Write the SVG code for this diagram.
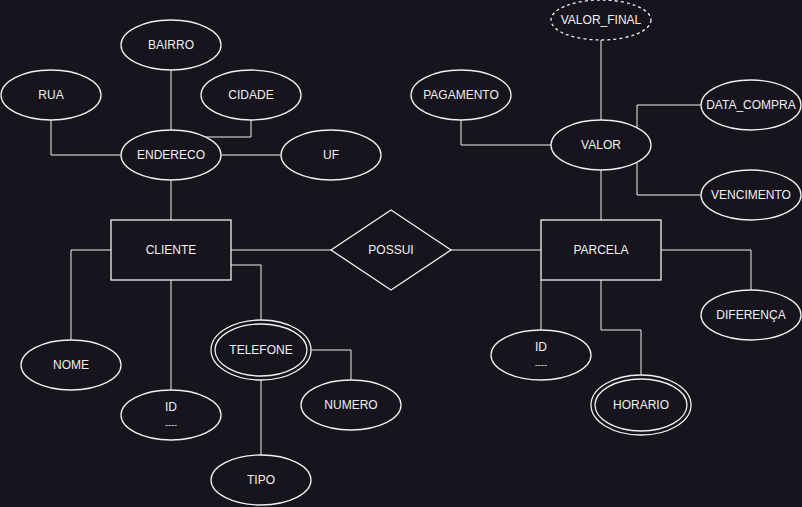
<svg xmlns="http://www.w3.org/2000/svg" width="802" height="507" viewBox="0 0 802 507">
<style>
.bg{fill:#18141d}
.s{fill:#18141d;stroke:#f0f0f0;stroke-width:1.3}
.l{fill:none;stroke:#f0f0f0;stroke-width:1}
.d{stroke-dasharray:3 3}
text{font-family:"Liberation Sans",Arial,sans-serif;font-size:12px;fill:#f0f0f0;text-anchor:middle;dominant-baseline:central}
.sm{font-size:9px}
</style>
<rect class="bg" x="0" y="0" width="802" height="507"/>
<g id="connectors">
<path class="l" d="M51,120V155H121"/>
<path class="l" d="M171,70V130"/>
<path class="l" d="M251,120V137H206"/>
<path class="l" d="M221,155H281"/>
<path class="l" d="M171,180V220"/>
<path class="l" d="M231,250H331"/>
<path class="l" d="M111,250H71V340"/>
<path class="l" d="M171,280V390"/>
<path class="l" d="M231,265H261V320"/>
<path class="l" d="M311,350H351V380"/>
<path class="l" d="M261,380V455"/>
<path class="l" d="M451,250H541"/>
<path class="l" d="M661,250H751V290"/>
<path class="l" d="M541,280V330"/>
<path class="l" d="M601,280V330H641V375"/>
<path class="l" d="M601,170V220"/>
<path class="l" d="M601,40V120"/>
<path class="l" d="M461,120V145H551"/>
<path class="l" d="M637,127.5V105H701"/>
<path class="l" d="M637,162.5V195H701"/>
</g>
<g id="bairro"><ellipse class="s" cx="171" cy="45" rx="50" ry="25"/><text x="171" y="45">BAIRRO</text></g>
<g id="rua"><ellipse class="s" cx="51" cy="95" rx="50" ry="25"/><text x="51" y="95">RUA</text></g>
<g id="cidade"><ellipse class="s" cx="251" cy="95" rx="50" ry="25"/><text x="251" y="95">CIDADE</text></g>
<g id="endereco"><ellipse class="s" cx="171" cy="155" rx="50" ry="25"/><text x="171" y="155">ENDERECO</text></g>
<g id="uf"><ellipse class="s" cx="331" cy="155" rx="50" ry="25"/><text x="331" y="155">UF</text></g>
<g id="cliente"><rect class="s" x="111" y="220" width="120" height="60"/><text x="171" y="250">CLIENTE</text></g>
<g id="possui"><path class="s" d="M391,210L451,250L391,290L331,250Z"/><text x="391" y="250">POSSUI</text></g>
<g id="nome"><ellipse class="s" cx="71" cy="365" rx="50" ry="25"/><text x="71" y="365">NOME</text></g>
<g id="id-cliente"><ellipse class="s" cx="171" cy="415" rx="50" ry="25"/><text x="171" y="407">ID</text><text class="sm" x="171" y="425">----</text></g>
<g id="telefone"><ellipse class="s" cx="261" cy="350" rx="50" ry="30"/><ellipse class="s" cx="261" cy="350" rx="46" ry="26"/><text x="261" y="350">TELEFONE</text></g>
<g id="numero"><ellipse class="s" cx="351" cy="405" rx="50" ry="25"/><text x="351" y="405">NUMERO</text></g>
<g id="tipo"><ellipse class="s" cx="261" cy="480" rx="50" ry="25"/><text x="261" y="480">TIPO</text></g>
<g id="parcela"><rect class="s" x="541" y="220" width="120" height="60"/><text x="601" y="250">PARCELA</text></g>
<g id="diferenca"><ellipse class="s" cx="751" cy="315" rx="50" ry="25"/><text x="751" y="315">DIFERENÇA</text></g>
<g id="id-parcela"><ellipse class="s" cx="541" cy="355" rx="50" ry="25"/><text x="541" y="347">ID</text><text class="sm" x="541" y="365">----</text></g>
<g id="horario"><ellipse class="s" cx="641" cy="405" rx="50" ry="30"/><ellipse class="s" cx="641" cy="405" rx="46" ry="26"/><text x="641" y="405">HORARIO</text></g>
<g id="valor"><ellipse class="s" cx="601" cy="145" rx="50" ry="25"/><text x="601" y="145">VALOR</text></g>
<g id="valor-final"><ellipse class="s d" cx="601" cy="20" rx="50" ry="20"/><text x="601" y="20">VALOR_FINAL</text></g>
<g id="pagamento"><ellipse class="s" cx="461" cy="95" rx="50" ry="25"/><text x="461" y="95">PAGAMENTO</text></g>
<g id="data-compra"><ellipse class="s" cx="751" cy="105" rx="50" ry="25"/><text x="751" y="105">DATA_COMPRA</text></g>
<g id="vencimento"><ellipse class="s" cx="751" cy="195" rx="50" ry="25"/><text x="751" y="195">VENCIMENTO</text></g>
</svg>
